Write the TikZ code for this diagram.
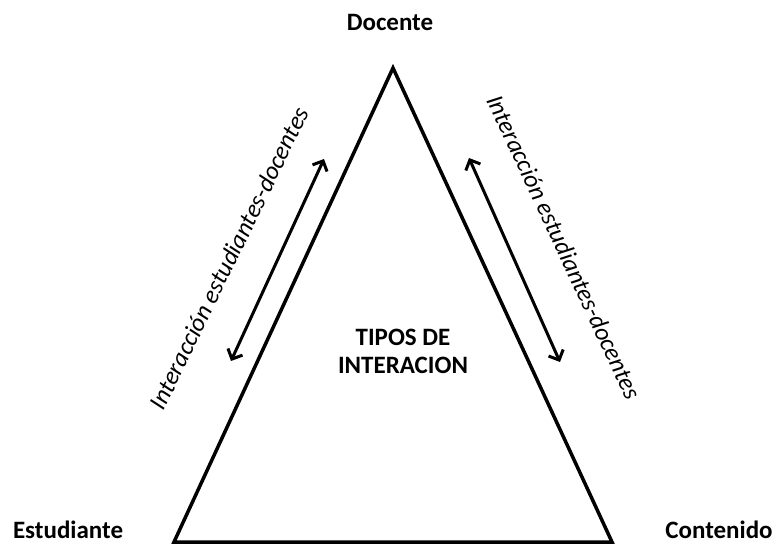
\documentclass[tikz,border=0pt]{standalone}
\usepackage{fontspec}
\setmainfont{Carlito}
\usetikzlibrary{arrows.meta}

\tikzset{
	vlabel/.style={font=\fontsize{25}{28}\selectfont\bfseries},
	rlabel/.style={font=\fontsize{25}{28}\selectfont\itshape},
	dbl/.style={line width=3pt,{Straight Barb[length=8pt,width=16pt]}-{Straight Barb[length=8pt,width=16pt]}}
}

\begin{document}
\begin{tikzpicture}[x=1pt,y=-1pt]
	\useasboundingbox (0,0) rectangle (774,544);
	\coordinate (c1) at (393,68);
	\coordinate (c2) at (174,542);
	\coordinate (c3) at (612,542);
	\draw (390,22) node(v1) [vlabel] {Docente};
	\draw (68,530) node(v2) [vlabel] {Estudiante};
	\draw (719,530) node(v3) [vlabel] {Contenido};
	\draw (403,351) node(v4) [vlabel,align=center] {TIPOS DE\\INTERACION};
	\path[draw,line width=3.5pt,line join=miter] (c1) -- (c2) -- (c3) -- cycle;
	\coordinate (a1) at (231,361);
	\coordinate (a2) at (324,159);
	\coordinate (a3) at (469,158);
	\coordinate (a4) at (560,362);
	\path[draw,dbl] (a1) -- (a2);
	\path[draw,dbl] (a3) -- (a4);
	\draw (229,258) node(v5) [rlabel,rotate=64] {Interacción estudiantes-docentes};
	\draw (564,247) node(v6) [rlabel,rotate=-65] {Interacción estudiantes-docentes};
\end{tikzpicture}
\end{document}
